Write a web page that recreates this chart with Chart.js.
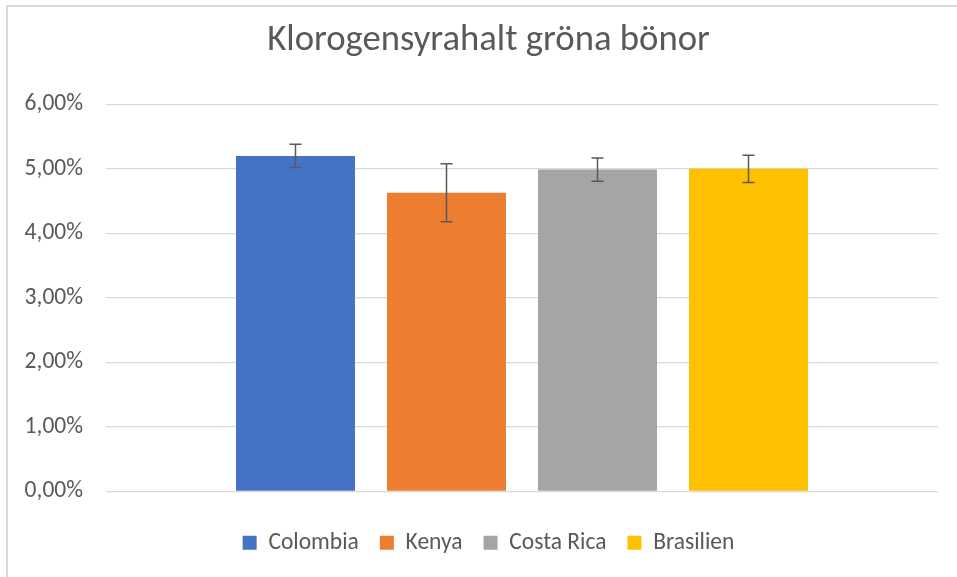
<!DOCTYPE html>
<html>
<head>
<meta charset="utf-8">
<script src="https://cdn.jsdelivr.net/npm/chart.js@4.4.1/dist/chart.umd.min.js"></script>
<style>
  html, body { margin: 0; padding: 0; background: #fff; overflow: hidden; }
  #wrap { position: relative; width: 957px; height: 577px; }
  #frame { position: absolute; left: 6px; top: 5px; width: 1000px; height: 700px; border: 2px solid #d9d9d9; box-sizing: border-box; }
  #chart { position: absolute; left: 0; top: 0; }
</style>
</head>
<body>
<div id="wrap">
  <div id="frame"></div>
  <canvas id="chart" width="957" height="577"></canvas>
</div>
<script>
// data (procent)
const chartTitle = 'Klorogensyrahalt gröna bönor';
const countries  = ['Colombia', 'Kenya', 'Costa Rica', 'Brasilien'];
const values     = [5.20, 4.63, 4.99, 5.00];
const errors     = [0.18, 0.45, 0.18, 0.21];
const colors     = ['#4472C4', '#ED7D31', '#A5A5A5', '#FFC000'];
const yTicks     = [0, 1, 2, 3, 4, 5, 6];

const FONT = "Carlito, Calibri, Lato, sans-serif";
const TXT  = '#595959';

// felstaplar ritas efter staplarna
const errorBars = {
  id: 'errorBars',
  afterDatasetsDraw(chart) {
    const ctx = chart.ctx;
    const y = chart.scales.y;
    ctx.save();
    ctx.strokeStyle = '#595959';
    ctx.lineWidth = 1.5;
    chart.data.datasets.forEach((ds, i) => {
      const bar = chart.getDatasetMeta(i).data[0];
      const v = ds.data[0], e = errors[i];
      const top = y.getPixelForValue(v + e);
      const bot = y.getPixelForValue(v - e);
      ctx.beginPath();
      ctx.moveTo(bar.x, top); ctx.lineTo(bar.x, bot);
      ctx.moveTo(bar.x - 6, top); ctx.lineTo(bar.x + 6, top);
      ctx.moveTo(bar.x - 6, bot); ctx.lineTo(bar.x + 6, bot);
      ctx.stroke();
    });
    ctx.restore();
  }
};

new Chart(document.getElementById('chart'), {
  type: 'bar',
  data: {
    labels: [''],
    datasets: countries.map((c, i) => ({
      label: c,
      data: [values[i]],
      backgroundColor: colors[i],
      borderWidth: 0,
      categoryPercentage: 0.726,
      barPercentage: 0.788
    }))
  },
  options: {
    responsive: false,
    animation: false,
    layout: { padding: { left: 20, right: 0, top: 5, bottom: 12.5 } },
    plugins: {
      tooltip: { enabled: false },
      title: {
        display: true,
        text: chartTitle,
        color: TXT,
        font: { family: FONT, size: 36.7, weight: 'normal' },
        padding: { top: 14, bottom: 41.3 }
      },
      legend: {
        position: 'bottom',
        labels: {
          color: TXT,
          font: { family: FONT, size: 23.5 },
          boxWidth: 14,
          boxHeight: 14,
          padding: 21
        }
      }
    },
    scales: {
      x: {
        grid: { display: false },
        border: { display: false },
        ticks: { display: false },
        afterFit: s => { s.height = 18.5; }
      },
      y: {
        min: yTicks[0],
        max: yTicks[yTicks.length - 1],
        afterBuildTicks: s => { s.ticks = yTicks.map(v => ({ value: v })); },
        grid: { color: '#d9d9d9', lineWidth: 1.3, drawTicks: false },
        border: { display: false },
        ticks: {
          color: TXT,
          padding: 23,
          font: { family: FONT, size: 23.5 },
          callback: v => v.toFixed(2).replace('.', ',') + '%'
        },
        afterFit: s => { s.width = 86; }
      },
      // tom marginal till höger om ritytan
      yRight: {
        position: 'right',
        grid: { display: false },
        border: { display: false },
        ticks: { display: false },
        afterFit: s => { s.width = 19; }
      }
    }
  },
  plugins: [errorBars]
});
</script>
</body>
</html>
